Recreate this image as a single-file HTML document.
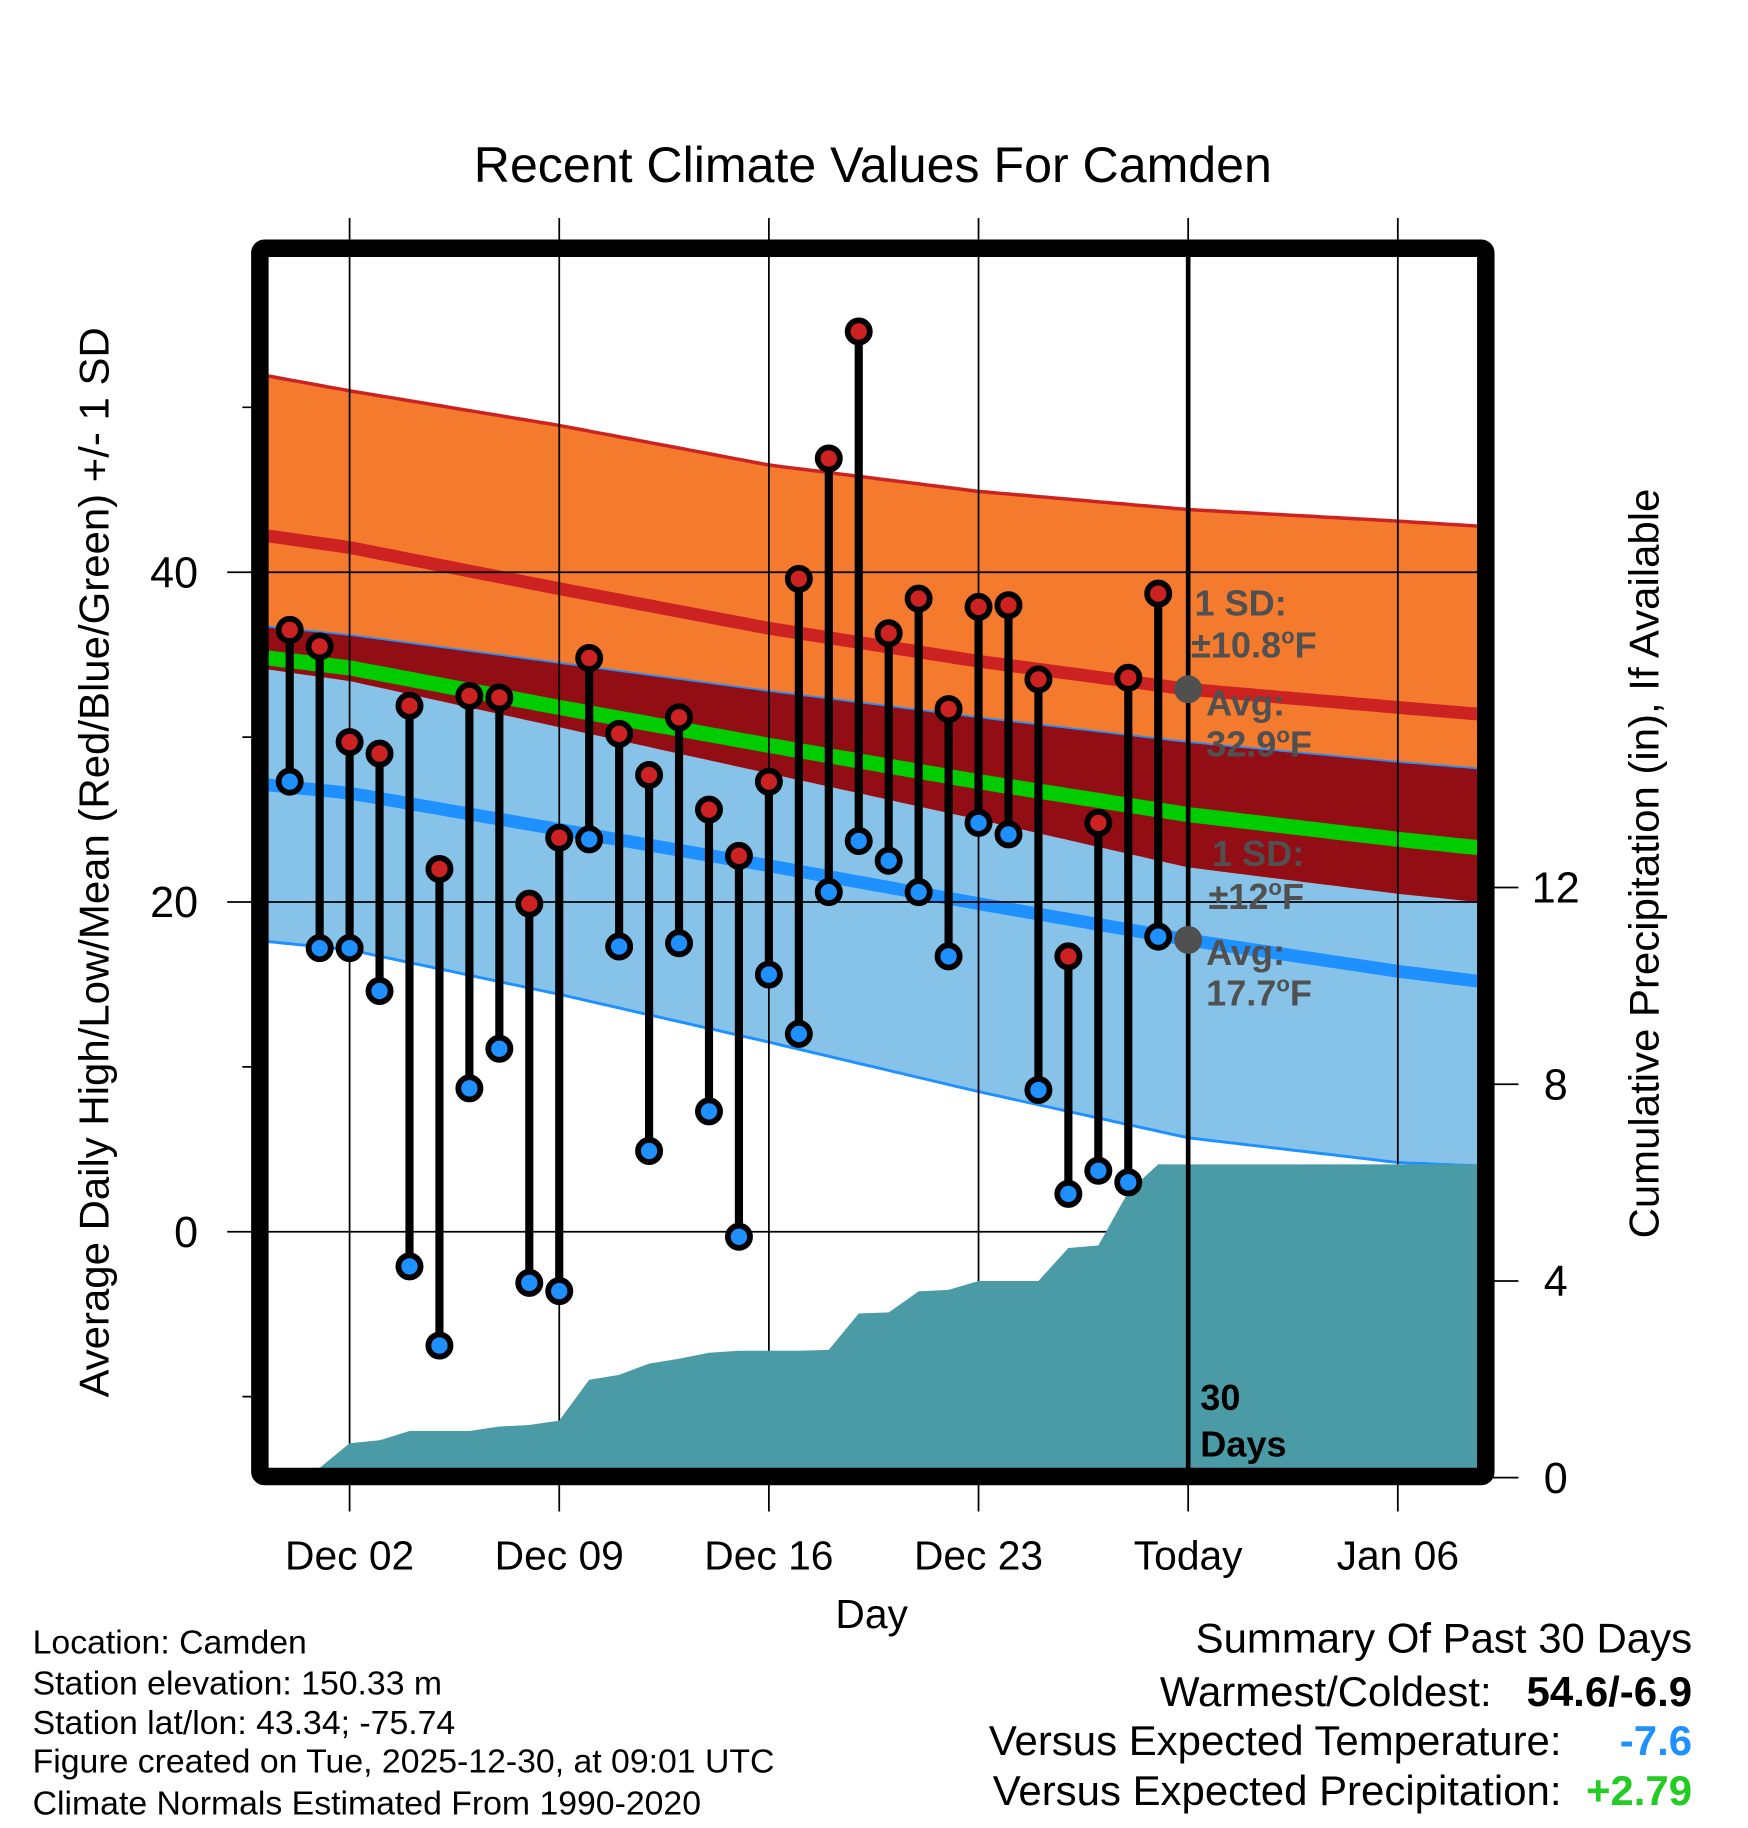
<!DOCTYPE html>
<html><head><meta charset="utf-8"><style>
html,body{margin:0;padding:0;background:#fff;}
svg{display:block;font-family:"Liberation Sans",Arial,sans-serif;}
</style></head><body>
<svg id="chart" width="1748" height="1828" viewBox="0 0 1500 1568.6" xmlns="http://www.w3.org/2000/svg">
<text x="749" y="156" font-size="43" text-anchor="middle">Recent Climate Values For Camden</text>
<g id="bands"></g>
<g id="grid"></g>
<g id="precip"></g>
<g id="marks"></g>
<g id="annot"></g>
<g id="frame"></g>
<text transform="translate(93,740) rotate(-90)" font-size="36" text-anchor="middle">Average Daily High/Low/Mean (Red/Blue/Green) +/- 1 SD</text>
<text transform="translate(1423,741) rotate(-90)" font-size="36" text-anchor="middle">Cumulative Precipitation (in), If Available</text>
<text x="748" y="1397" font-size="35" text-anchor="middle">Day</text>
<g font-size="29">
<text x="28" y="1419">Location: Camden</text>
<text x="28" y="1454">Station elevation: 150.33 m</text>
<text x="28" y="1488">Station lat/lon: 43.34; -75.74</text>
<text x="28" y="1521">Figure created on Tue, 2025-12-30, at 09:01 UTC</text>
<text x="28" y="1557">Climate Normals Estimated From 1990-2020</text>
</g>
<g font-size="36" text-anchor="end">
<text x="1452" y="1418">Summary Of Past 30 Days</text>
<text x="1280" y="1464">Warmest/Coldest:</text>
<text x="1452" y="1464" font-weight="bold">54.6/-6.9</text>
<text x="1340" y="1506">Versus Expected Temperature:</text>
<text x="1452" y="1506" font-weight="bold" fill="#1e90ff">-7.6</text>
<text x="1340" y="1549">Versus Expected Precipitation:</text>
<text x="1452" y="1549" font-weight="bold" fill="#22cc22">+2.79</text>
</g>
</svg>
<script>
// ---- data ----
const normDays = [-0.72, 2, 9, 16, 23, 30, 37, 39.66];
const highTop  = [51.9, 51.0, 48.9, 46.5, 44.9, 43.8, 43.1, 42.8];
const highMean = [42.2, 41.5, 39.0, 36.6, 34.6, 32.9, 31.8, 31.4];
const highBot  = [34.1, 33.4, 30.6, 27.8, 25.0, 22.1, 20.5, 20.0];
const lowTop   = [36.7, 36.2, 34.5, 32.8, 31.2, 29.7, 28.5, 28.1];
const lowMean  = [27.1, 26.6, 24.4, 22.2, 19.9, 17.7, 15.8, 15.2];
const lowBot   = [17.6, 17.1, 14.4, 11.5, 8.5, 5.7, 4.2, 4.0];
const meanLine = [34.8, 34.2, 31.8, 29.5, 27.3, 25.3, 23.8, 23.3];
const obsDays = [0,1,2,3,4,5,6,7,8,9,10,11,12,13,14,15,16,17,18,19,20,21,22,23,24,25,26,27,28,29];
const highs = [36.5,35.5,29.7,29.0,31.9,22.0,32.5,32.4,19.9,23.9,34.8,30.2,27.7,31.2,25.6,22.8,27.3,39.6,46.9,54.6,36.3,38.4,31.7,37.9,38.0,33.5,16.7,24.8,33.6,38.7];
const lows  = [27.3,17.2,17.2,14.6,-2.1,-6.9,8.7,11.1,-3.1,-3.6,23.8,17.3,4.9,17.5,7.3,-0.3,15.6,12.0,20.6,23.7,22.5,20.6,16.7,24.8,24.1,8.6,2.3,3.7,3.0,17.9];
const precip = [0.15,0.2,0.7,0.76,0.95,0.95,0.95,1.04,1.07,1.16,1.99,2.09,2.32,2.42,2.54,2.58,2.58,2.58,2.6,3.34,3.36,3.79,3.82,4.0,4.0,4.0,4.67,4.72,5.81,6.37];
const xTickDays = [2, 9, 16, 23, 30, 37];
const xTickLabels = ["Dec 02","Dec 09","Dec 16","Dec 23","Today","Jan 06"];
const yTicks = [0, 20, 40];
const yMinor = [-10, 10, 30, 50];
const y2Ticks = [0, 4, 8, 12];
// ---- scales ----
const L=230,R=1268,T=220,B=1260;
const X = d => 300 + (d-2)*25.7;          // d = December day number (Nov 30 = 0)
const Y = t => 1057 - t*14.15;
const YP = p => 1268 - p*42.2;
const obsX = i => X(obsDays[i]);
const NS="http://www.w3.org/2000/svg";
function mk(tag, attrs, parent){const e=document.createElementNS(NS,tag);for(const k in attrs)e.setAttribute(k,attrs[k]);parent.appendChild(e);return e;}
function interp(arr,d){for(let i=0;i<normDays.length-1;i++){if(d<=normDays[i+1]){const f=(d-normDays[i])/(normDays[i+1]-normDays[i]);return arr[i]+f*(arr[i+1]-arr[i]);}}return arr[arr.length-1];}
function samples(){const s=[];const a=normDays[0],b=normDays[normDays.length-1];for(let k=0;k<=160;k++)s.push(a+(b-a)*k/160);return s;}
const S=samples();
function linePts(arr){return S.map(d=>X(d).toFixed(1)+","+Y(interp(arr,d)).toFixed(1));}
function bandPath(top,bot){const a=linePts(top),b=linePts(bot).reverse();return "M"+a.join("L")+"L"+b.join("L")+"Z";}
const bands=document.getElementById('bands');
let e;
e=mk('path',{d:bandPath(lowTop,lowBot),fill:'#87c3e8'},bands);


e=mk('path',{d:bandPath(highTop,highBot),fill:'#f47a2e'},bands);


e=mk('path',{d:bandPath(lowTop,highBot),fill:'#930e14'},bands);


e=mk('polyline',{points:linePts(highTop).join(' '),fill:'none',stroke:'#cc2222',"stroke-width":3},bands);


e=mk('polyline',{points:linePts(lowTop).join(' '),fill:'none',stroke:'#1e90ff',"stroke-width":1.5},bands);


e=mk('polyline',{points:linePts(lowBot).join(' '),fill:'none',stroke:'#1e90ff',"stroke-width":2.5},bands);


e=mk('polyline',{points:linePts(highMean).join(' '),fill:'none',stroke:'#cc2222',"stroke-width":11},bands);


e=mk('polyline',{points:linePts(meanLine).join(' '),fill:'none',stroke:'#00cc00',"stroke-width":13},bands);


e=mk('polyline',{points:linePts(lowMean).join(' '),fill:'none',stroke:'#1e90ff',"stroke-width":11},bands);


// grid
const grid=document.getElementById('grid');
xTickDays.forEach((d,i)=>{
  const g=mk('line',{x1:X(d),x2:X(d),y1:187,y2:1297,stroke:'#000',"stroke-width":1.5},grid);
  
  
  const t=mk('text',{x:X(d),y:1347,"font-size":35,"text-anchor":"middle"},grid);
  t.textContent=xTickLabels[i];
  
  
});
yTicks.forEach(v=>{
  const g=mk('line',{x1:195,x2:R,y1:Y(v),y2:Y(v),stroke:'#000',"stroke-width":1.5},grid);
  
  
  const t=mk('text',{x:170,y:Y(v)+13,"font-size":37,"text-anchor":"end"},grid);
  t.textContent=v;
  
  
});
yMinor.forEach(v=>{
  const g=mk('line',{x1:208,x2:224,y1:Y(v),y2:Y(v),stroke:'#000',"stroke-width":1.5},grid);
  
  
});
y2Ticks.forEach(v=>{
  const g=mk('line',{x1:1280,x2:1303,y1:YP(v),y2:YP(v),stroke:'#000',"stroke-width":1.5},grid);
  
  
  const t=mk('text',{x:1335,y:YP(v)+13,"font-size":37,"text-anchor":"middle"},grid);
  t.textContent=v;
  
  
});
// precip area
const pg=document.getElementById('precip');
let pts=[[L,YP(precip[0])]];
precip.forEach((p,i)=>pts.push([obsX(i),YP(p)]));
pts.push([R,YP(precip[precip.length-1])]);
let dpath="M"+L+","+B+"L"+pts.map(p=>p[0].toFixed(1)+","+p[1].toFixed(1)).join("L")+"L"+R+","+B+"Z";
e=mk('path',{d:dpath,fill:'#4a9ba5'},pg);


e=mk('line',{x1:X(30),x2:X(30),y1:T,y2:B,stroke:'#000',"stroke-width":4},pg);


// marks
const mg=document.getElementById('marks');
highs.forEach((h,i)=>{
  const x=obsX(i);
  const s=mk('line',{x1:x,x2:x,y1:Y(h),y2:Y(lows[i]),stroke:'#000',"stroke-width":7},mg);
  
  
});
highs.forEach((h,i)=>{
  const x=obsX(i);
  const c1=mk('circle',{cx:x,cy:Y(h),r:9.5,fill:'#cc2222',stroke:'#000',"stroke-width":5},mg);
  
  
  const c2=mk('circle',{cx:x,cy:Y(lows[i]),r:9.5,fill:'#1e90ff',stroke:'#000',"stroke-width":5},mg);
  
  
});
// annotations
const ag=document.getElementById('annot');
const tx=X(30);
e=mk('circle',{cx:tx,cy:Y(interp(highMean,30)),r:12,fill:'#505050'},ag);


e=mk('circle',{cx:tx,cy:Y(interp(lowMean,30)),r:12,fill:'#505050'},ag);


ag.insertAdjacentHTML('beforeend',
 '<g fill="#505050" font-size="31" font-weight="bold">'+
 '<text x="1025" y="528">1 SD:</text><text x="1022" y="564">±10.8<tspan font-size="19" dy="-12">o</tspan><tspan dy="12">F</tspan></text>'+
 '<text x="1035" y="614">Avg:</text><text x="1035" y="649">32.9<tspan font-size="19" dy="-12">o</tspan><tspan dy="12">F</tspan></text></g>'+
 '<g fill="#505050" font-size="31" font-weight="bold">'+
 '<text x="1040" y="743">1 SD:</text><text x="1037" y="780">±12<tspan font-size="19" dy="-12">o</tspan><tspan dy="12">F</tspan></text>'+
 '<text x="1035" y="828">Avg:</text><text x="1035" y="863">17.7<tspan font-size="19" dy="-12">o</tspan><tspan dy="12">F</tspan></text></g>'+
 '<g font-size="31" font-weight="bold"><text x="1030" y="1210">30</text><text x="1030" y="1250">Days</text></g>');
// frame
const fg=document.getElementById('frame');
e=mk('rect',{x:223,y:213,width:1052,height:1054,rx:4,fill:'none',stroke:'#000',"stroke-width":15},fg);


</script>
</body></html>
